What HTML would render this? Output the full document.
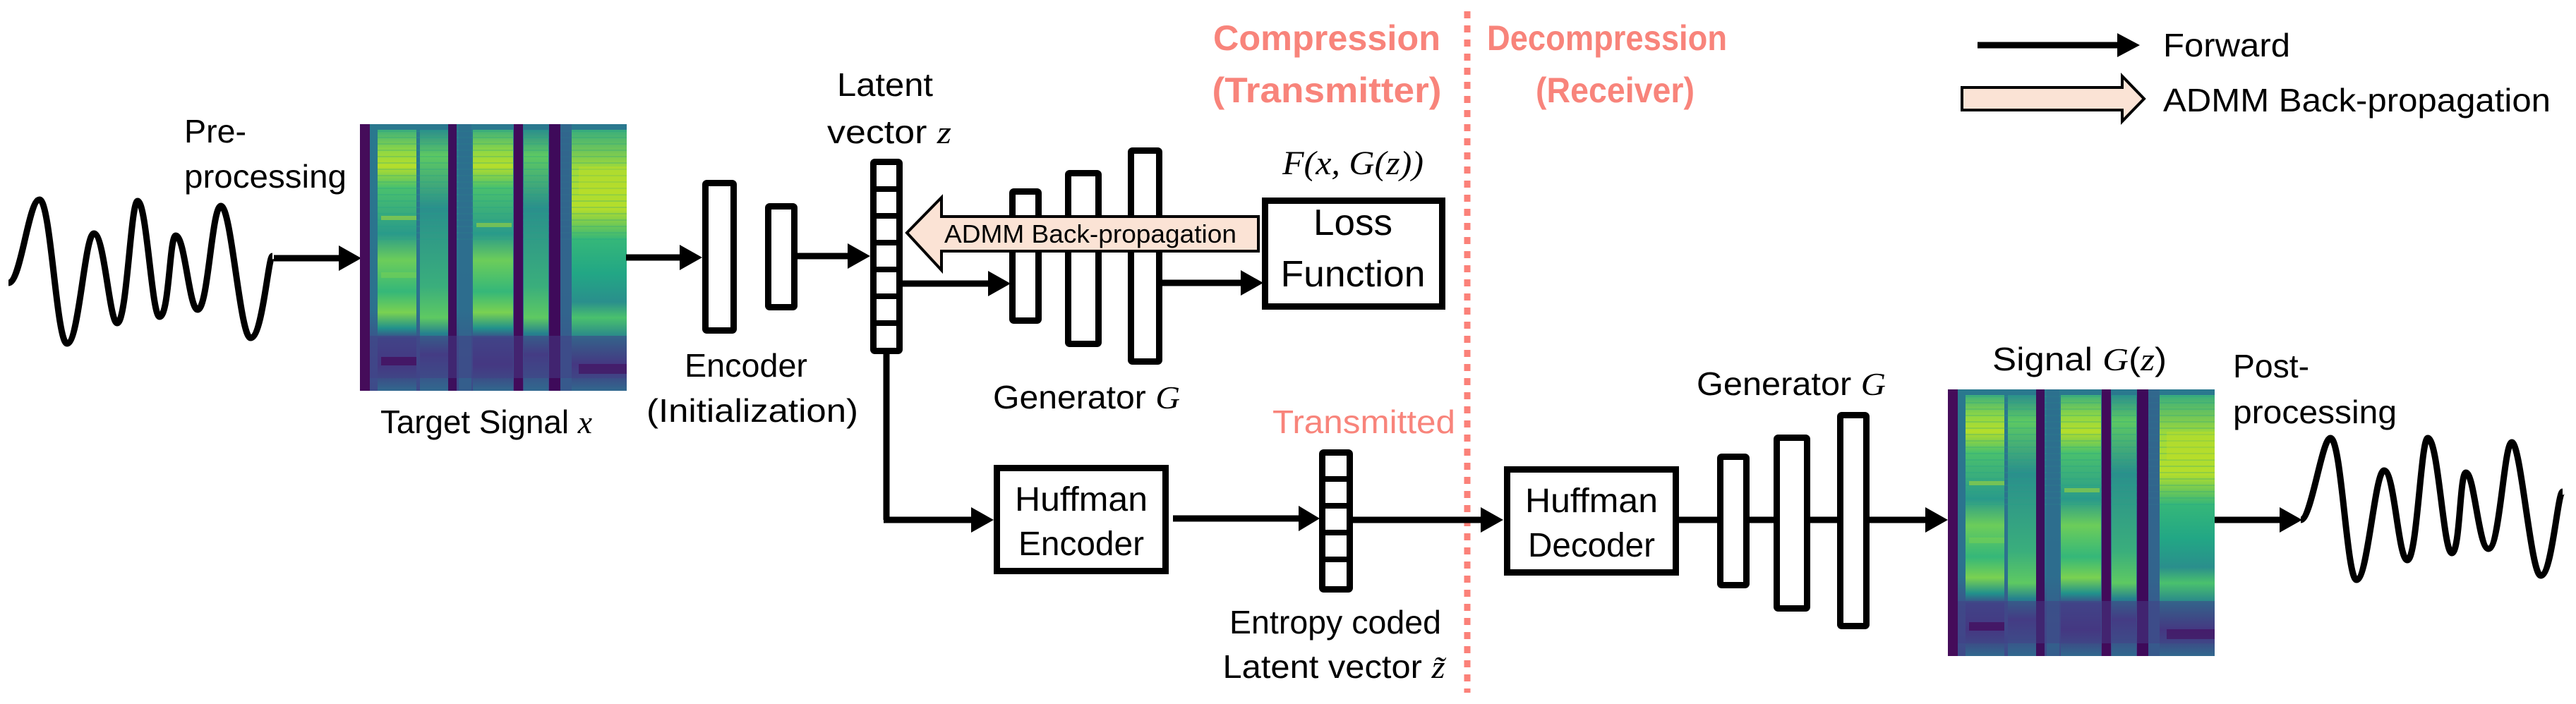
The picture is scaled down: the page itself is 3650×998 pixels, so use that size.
<!DOCTYPE html>
<html><head><meta charset="utf-8"><style>
html,body{margin:0;padding:0;background:#fff;}
svg{display:block;}
text{font-family:"Liberation Sans",sans-serif;fill:#000;}
.m{font-family:"Liberation Serif",serif;font-style:italic;}
</style></head><body>
<svg width="3650" height="998" viewBox="0 0 3650 998" xmlns="http://www.w3.org/2000/svg">
<defs>
<linearGradient id="cg" x1="0" y1="0" x2="0" y2="1">
<stop offset="0" stop-color="#3fb07a"/><stop offset="0.08" stop-color="#8fd744"/><stop offset="0.14" stop-color="#b5de2b"/>
<stop offset="0.22" stop-color="#4ac16d"/><stop offset="0.4" stop-color="#2a9a8a"/><stop offset="0.5" stop-color="#6ccd5a"/>
<stop offset="0.62" stop-color="#35b779"/><stop offset="0.7" stop-color="#7ad151"/><stop offset="0.76" stop-color="#21918c"/>
<stop offset="0.8" stop-color="#3e4989"/><stop offset="0.9" stop-color="#46327e"/><stop offset="1" stop-color="#31688e"/>
</linearGradient>
<linearGradient id="cg2" x1="0" y1="0" x2="0" y2="1">
<stop offset="0" stop-color="#2c8e8c"/><stop offset="0.1" stop-color="#5ec962"/><stop offset="0.3" stop-color="#2a8f8c"/>
<stop offset="0.6" stop-color="#3aae7c"/><stop offset="0.72" stop-color="#5ec962"/><stop offset="0.78" stop-color="#26828e"/>
<stop offset="0.86" stop-color="#443a83"/><stop offset="1" stop-color="#31688e"/>
</linearGradient>
<linearGradient id="rg" x1="0" y1="0" x2="0" y2="1">
<stop offset="0" stop-color="#3aae7c"/><stop offset="0.15" stop-color="#a0da39"/><stop offset="0.3" stop-color="#b5de2b"/>
<stop offset="0.42" stop-color="#35b779"/><stop offset="0.55" stop-color="#22a785"/><stop offset="0.66" stop-color="#2a8f8c"/>
<stop offset="0.72" stop-color="#4ac16d"/><stop offset="0.8" stop-color="#26828e"/><stop offset="0.9" stop-color="#46327e"/><stop offset="1" stop-color="#31688e"/>
</linearGradient>
<linearGradient id="bg" x1="0" y1="0" x2="0" y2="1">
<stop offset="0" stop-color="#2a788e"/><stop offset="0.7" stop-color="#2c718e"/><stop offset="0.82" stop-color="#3b528b"/><stop offset="1" stop-color="#3e4a89"/>
</linearGradient>
<pattern id="hl" width="10" height="9" patternUnits="userSpaceOnUse"><rect width="10" height="2" fill="#1f9e89" opacity="0.25"/></pattern>
<g id="spec">
<rect x="0" y="0" width="378" height="378" fill="url(#bg)"/>
<rect x="25" y="8" width="55" height="370" fill="url(#cg)"/>
<rect x="85" y="8" width="40" height="370" fill="url(#cg2)"/>
<rect x="160" y="8" width="57" height="370" fill="url(#cg)"/>
<rect x="232" y="8" width="35" height="370" fill="url(#cg2)"/>
<rect x="300" y="8" width="78" height="370" fill="url(#rg)"/>
<rect x="25" y="8" width="353" height="160" fill="url(#hl)"/>
<rect x="140" y="0" width="18" height="378" fill="#2e6b8e" opacity="0.6"/>
<rect x="284" y="0" width="16" height="378" fill="#35608d" opacity="0.7"/>
<rect x="0" y="0" width="14" height="378" fill="#450c5a"/>
<rect x="125" y="0" width="12" height="378" fill="#3d0f5c"/>
<rect x="218" y="0" width="13" height="378" fill="#420b5a"/>
<rect x="268" y="0" width="16" height="378" fill="#3e0a5a"/>
<rect x="14" y="300" width="364" height="60" fill="#433e85" opacity="0.5"/>
<rect x="30" y="330" width="50" height="12" fill="#440154" opacity="0.6"/>
<rect x="310" y="340" width="68" height="14" fill="#440154" opacity="0.5"/>
<rect x="30" y="130" width="50" height="6" fill="#b5de2b" opacity="0.5"/>
<rect x="30" y="210" width="50" height="8" fill="#7ad151" opacity="0.5"/>
<rect x="165" y="140" width="50" height="6" fill="#b5de2b" opacity="0.5"/>
<rect x="310" y="60" width="68" height="40" fill="#c8e020" opacity="0.35"/>
</g>
</defs>

<path d="M12,401 C30,401 40,283 56,283 C72,283 80,487 95,487 C112,487 120,331 133,331 C148,331 155,458 166,458 C180,458 185,285 195,285 C208,285 215,449 226,449 C240,449 240,334 249,334 C262,334 268,439 280,439 C295,439 300,292 313,292 C328,292 340,479 355,479 C372,479 380,363 386,363" fill="none" stroke="#000" stroke-width="9" stroke-linejoin="round"/>
<line x1="388" y1="366" x2="482" y2="366" stroke="#000" stroke-width="9"/>
<polygon points="480,348 512,366 480,384" fill="#000"/>

<use href="#spec" x="510" y="176"/>
<text x="261" y="202" font-size="46" textLength="88" lengthAdjust="spacingAndGlyphs">Pre-</text>
<text x="261" y="266" font-size="46" textLength="230" lengthAdjust="spacingAndGlyphs">processing</text>
<text x="539" y="614" font-size="46" textLength="300" lengthAdjust="spacingAndGlyphs">Target Signal <tspan class="m">x</tspan></text>

<line x1="887" y1="365" x2="965" y2="365" stroke="#000" stroke-width="9"/>
<polygon points="963,347 995,365 963,383" fill="#000"/>
<rect x="999.5" y="259.5" width="40" height="209" fill="#fff" stroke="#000" stroke-width="9" rx="2"/>
<rect x="1088.5" y="292.5" width="37" height="143" fill="#fff" stroke="#000" stroke-width="9" rx="2"/>
<line x1="1129" y1="363" x2="1203" y2="363" stroke="#000" stroke-width="9"/>
<polygon points="1201,345 1233,363 1201,381" fill="#000"/>
<text x="1057" y="534" font-size="46" text-anchor="middle" textLength="174" lengthAdjust="spacingAndGlyphs">Encoder</text>
<text x="1066" y="598" font-size="46" text-anchor="middle" textLength="300" lengthAdjust="spacingAndGlyphs">(Initialization)</text>

<text x="1254" y="136" font-size="46" text-anchor="middle" textLength="136" lengthAdjust="spacingAndGlyphs">Latent</text>
<text x="1260" y="203" font-size="46" text-anchor="middle" textLength="176" lengthAdjust="spacingAndGlyphs">vector <tspan class="m">z</tspan></text>
<line x1="1256" y1="500" x2="1256" y2="737" stroke="#000" stroke-width="9"/>
<line x1="1252" y1="737" x2="1378" y2="737" stroke="#000" stroke-width="9"/>
<polygon points="1376,719 1408,737 1376,755" fill="#000"/>
<rect x="1237.5" y="229.5" width="37" height="268" fill="#fff" stroke="#000" stroke-width="9" rx="2"/>
<g stroke="#000" stroke-width="8">
<line x1="1237" y1="268" x2="1275" y2="268"/><line x1="1237" y1="306" x2="1275" y2="306"/><line x1="1237" y1="344" x2="1275" y2="344"/>
<line x1="1237" y1="382" x2="1275" y2="382"/><line x1="1237" y1="420" x2="1275" y2="420"/><line x1="1237" y1="458" x2="1275" y2="458"/>
</g>

<line x1="1278" y1="402" x2="1402" y2="402" stroke="#000" stroke-width="9"/>
<polygon points="1400,384 1432,402 1400,420" fill="#000"/>
<rect x="1434.5" y="271.5" width="37" height="183" fill="#fff" stroke="#000" stroke-width="9" rx="2"/>
<rect x="1513.5" y="245.5" width="43" height="242" fill="#fff" stroke="#000" stroke-width="9" rx="2"/>
<rect x="1602.5" y="213.5" width="40" height="299" fill="#fff" stroke="#000" stroke-width="9" rx="2"/>
<line x1="1646" y1="401" x2="1760" y2="401" stroke="#000" stroke-width="9"/>
<polygon points="1758,383 1790,401 1758,419" fill="#000"/>
<text x="1407" y="579" font-size="46" textLength="265" lengthAdjust="spacingAndGlyphs">Generator <tspan class="m">G</tspan></text>

<text x="1917" y="247" font-size="48" text-anchor="middle" class="m" textLength="200" lengthAdjust="spacingAndGlyphs">F(x, G(z))</text>
<rect x="1792.5" y="284.5" width="251" height="150" fill="#fff" stroke="#000" stroke-width="9"/>
<text x="1917" y="333" font-size="52" text-anchor="middle" textLength="112" lengthAdjust="spacingAndGlyphs">Loss</text>
<text x="1917" y="406" font-size="52" text-anchor="middle" textLength="205" lengthAdjust="spacingAndGlyphs">Function</text>

<polygon points="1285,330 1334,280 1334,307 1783,307 1783,356 1334,356 1334,383" fill="#fbe3d5" stroke="#000" stroke-width="4" stroke-linejoin="miter"/>
<text x="1338" y="344" font-size="36" textLength="414" lengthAdjust="spacingAndGlyphs">ADMM Back-propagation</text>

<text x="1880" y="71" font-size="50" font-weight="bold" text-anchor="middle" style="fill:#f8847b" textLength="322" lengthAdjust="spacingAndGlyphs">Compression</text>
<text x="1880" y="145" font-size="50" font-weight="bold" text-anchor="middle" style="fill:#f8847b" textLength="325" lengthAdjust="spacingAndGlyphs">(Transmitter)</text>
<text x="2107" y="71" font-size="50" font-weight="bold" style="fill:#f8847b" textLength="340" lengthAdjust="spacingAndGlyphs">Decompression</text>
<text x="2176" y="145" font-size="50" font-weight="bold" style="fill:#f8847b" textLength="225" lengthAdjust="spacingAndGlyphs">(Receiver)</text>
<line x1="2079" y1="16" x2="2079" y2="982" stroke="#fb8179" stroke-width="9" stroke-dasharray="10 10"/>
<text x="2062" y="614" font-size="46" text-anchor="end" style="fill:#f8847b" textLength="259" lengthAdjust="spacingAndGlyphs">Transmitted</text>

<rect x="1412.5" y="663.5" width="239" height="146" fill="#fff" stroke="#000" stroke-width="9"/>
<text x="1532" y="724" font-size="48" text-anchor="middle" textLength="188" lengthAdjust="spacingAndGlyphs">Huffman</text>
<text x="1532" y="787" font-size="48" text-anchor="middle" textLength="178" lengthAdjust="spacingAndGlyphs">Encoder</text>
<line x1="1662" y1="735" x2="1842" y2="735" stroke="#000" stroke-width="9"/>
<polygon points="1840,717 1870,735 1840,753" fill="#000"/>

<line x1="1917" y1="737" x2="2100" y2="737" stroke="#000" stroke-width="9"/>
<polygon points="2098,719 2130,737 2098,755" fill="#000"/>
<rect x="1873.5" y="641.5" width="39" height="194" fill="#fff" stroke="#000" stroke-width="9" rx="2"/>
<g stroke="#000" stroke-width="8">
<line x1="1873" y1="679" x2="1913" y2="679"/><line x1="1873" y1="717" x2="1913" y2="717"/><line x1="1873" y1="755" x2="1913" y2="755"/><line x1="1873" y1="793" x2="1913" y2="793"/>
</g>
<text x="1892" y="898" font-size="46" text-anchor="middle" textLength="300" lengthAdjust="spacingAndGlyphs">Entropy coded</text>
<text x="1890" y="961" font-size="46" text-anchor="middle" textLength="315" lengthAdjust="spacingAndGlyphs">Latent vector <tspan class="m">z̃</tspan></text>

<rect x="2135.5" y="665.5" width="239" height="146" fill="#fff" stroke="#000" stroke-width="9"/>
<text x="2255" y="726" font-size="48" text-anchor="middle" textLength="188" lengthAdjust="spacingAndGlyphs">Huffman</text>
<text x="2255" y="789" font-size="48" text-anchor="middle" textLength="180" lengthAdjust="spacingAndGlyphs">Decoder</text>

<line x1="2379" y1="737" x2="2730" y2="737" stroke="#000" stroke-width="9"/>
<polygon points="2728,719 2760,737 2728,755" fill="#000"/>
<rect x="2437.5" y="647.5" width="37" height="182" fill="#fff" stroke="#000" stroke-width="9" rx="2"/>
<rect x="2517.5" y="620.5" width="43" height="242" fill="#fff" stroke="#000" stroke-width="9" rx="2"/>
<rect x="2607.5" y="588.5" width="37" height="299" fill="#fff" stroke="#000" stroke-width="9" rx="2"/>
<text x="2404" y="560" font-size="46" textLength="268" lengthAdjust="spacingAndGlyphs">Generator <tspan class="m">G</tspan></text>

<use href="#spec" x="2760" y="552"/>
<text x="2823" y="525" font-size="46" textLength="247" lengthAdjust="spacingAndGlyphs">Signal <tspan class="m">G</tspan>(<tspan class="m">z</tspan>)</text>
<text x="3164" y="535" font-size="46" textLength="108" lengthAdjust="spacingAndGlyphs">Post-</text>
<text x="3164" y="600" font-size="46" textLength="232" lengthAdjust="spacingAndGlyphs">processing</text>
<line x1="3138" y1="737" x2="3232" y2="737" stroke="#000" stroke-width="9"/>
<polygon points="3230,719 3262,737 3230,755" fill="#000"/>

<path d="M3260,737 C3275,737 3290,621 3302,621 C3318,621 3325,822 3339,822 C3355,822 3365,667 3378,667 C3393,667 3398,794 3411,794 C3425,794 3430,621 3440,621 C3455,621 3462,784 3474,784 C3486,784 3485,670 3494,670 C3506,670 3512,778 3526,778 C3542,778 3548,627 3559,627 C3572,627 3586,816 3600,816 C3616,816 3624,697 3631,697" fill="none" stroke="#000" stroke-width="9" stroke-linejoin="round"/>

<line x1="2802" y1="64" x2="3002" y2="64" stroke="#000" stroke-width="9"/>
<polygon points="3000,47 3032,64 3000,81" fill="#000"/>
<text x="3065" y="80" font-size="46" textLength="180" lengthAdjust="spacingAndGlyphs">Forward</text>
<polygon points="2780,124 3007,124 3007,108 3038,140 3007,172 3007,156 2780,156" fill="#fbe3d5" stroke="#000" stroke-width="4"/>
<text x="3065" y="158" font-size="46" textLength="549" lengthAdjust="spacingAndGlyphs">ADMM Back-propagation</text>
</svg>
</body></html>
